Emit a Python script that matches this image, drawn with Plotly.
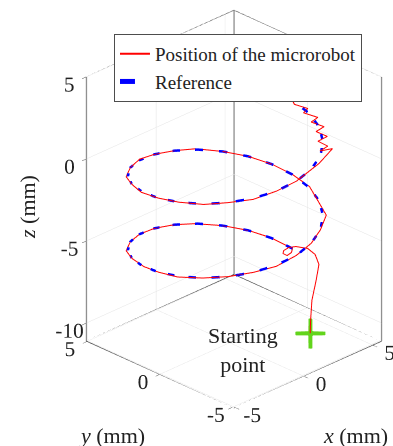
import plotly.graph_objects as go

# ---------------- axes ----------------
x_range = [-5.07, 5.65]
y_range = [-5.1, 5.05]
z_range = [-11.1, 5.0]
x_ticks = [-5, 0, 5]
y_ticks = [-5, 0, 5]
z_ticks = [-10, -5, 0, 5]
x_ticktext = ["-5", "0", "5"]
y_ticktext = ["-5", "0", "5"]
z_ticktext = ["-10", "-5", "0", "5"]

# ---------------- reference helix (mm) ----------------
ref_x = [4.72, 4.55, 4.07, 3.29, 2.29, 1.11, -0.15, -1.41, -2.59, -3.59, -4.37, -4.85,
         -5.02, -4.85, -4.37, -3.59, -2.59, -1.41, -0.15, 1.11, 2.29, 3.29, 4.07, 4.55,
         4.72, 4.55, 4.07, 3.29, 2.29, 1.11, -0.15, -1.41, -2.59, -3.59, -4.37, -4.85,
         -5.02, -4.85, -4.37, -3.59, -2.59, -1.41, -0.15, 1.11, 2.29, 3.29, 4.07, 4.55,
         4.72]
ref_y = [0.15, 1.41, 2.59, 3.59, 4.37, 4.85, 5.02, 4.85, 4.37, 3.59, 2.59, 1.41,
         0.15, -1.11, -2.29, -3.29, -4.07, -4.55, -4.72, -4.55, -4.07, -3.29, -2.29, -1.11,
         0.15, 1.41, 2.59, 3.59, 4.37, 4.85, 5.02, 4.85, 4.37, 3.59, 2.59, 1.41,
         0.15, -1.11, -2.29, -3.29, -4.07, -4.55, -4.72, -4.55, -4.07, -3.29, -2.29, -1.11,
         0.15]
ref_z = [-7.21, -7.02, -6.83, -6.65, -6.46, -6.27, -6.08, -5.89, -5.71, -5.52, -5.33, -5.14,
         -4.95, -4.77, -4.58, -4.39, -4.20, -4.01, -3.83, -3.64, -3.45, -3.26, -3.07, -2.89,
         -2.70, -2.51, -2.32, -2.13, -1.95, -1.76, -1.57, -1.38, -1.19, -1.01, -0.82, -0.63,
         -0.44, -0.25, -0.07, 0.12, 0.31, 0.50, 0.69, 0.87, 1.06, 1.25, 1.44, 1.63,
         1.81]

# ---------------- measured microrobot position (mm) ----------------
rob_x = [3.55, 3.60, 3.75, 3.95, 4.10, 4.30, 4.50, 4.70, 4.60, 4.45, 4.50, 4.70, 4.85,
         4.72, 4.55, 4.07, 3.29, 2.20, 1.11, -0.15, -1.41, -2.59, -3.72, -4.37, -4.85,
         -5.02, -4.95, -4.37, -3.59, -2.59, -1.41, -0.15, 1.11, 2.29, 3.42, 4.00, 4.62,
         4.72, 4.55, 4.07, 3.29, 2.29, 1.11, -0.15, -1.41, -2.59, -3.72, -4.37, -4.92,
         -5.02, -4.85, -4.37, -3.59, -2.59, -1.41, -0.15,
         1.40, 2.73, 2.57, 3.16, 3.11, 3.76, 3.66, 4.25, 4.08, 4.61, 4.37, 4.79, 4.56, 4.72, 4.61]
rob_y = [-2.17, -2.15, -2.10, -2.20, -2.25, -1.80, -1.10, -0.10, 0.30, 0.50, 0.60, 0.50, 0.35,
         0.15, 1.50, 2.59, 3.59, 4.45, 4.85, 5.02, 4.85, 4.37, 3.59, 2.59, 1.30,
         0.15, -1.11, -2.29, -3.29, -4.07, -4.55, -4.72, -4.55, -4.07, -3.40, -2.29, -1.11,
         0.15, 1.41, 2.59, 3.59, 4.50, 4.85, 5.02, 4.85, 4.37, 3.59, 2.59, 1.41,
         0.15, -1.11, -2.36, -3.29, -4.07, -4.55, -4.72,
         -4.82, -4.48, -3.77, -3.75, -3.12, -3.15, -2.47, -2.46, -1.74, -1.69, -0.94, -0.83, -0.13, 0.15, 0.25]
rob_z = [-11.00, -10.23, -9.09, -7.91, -6.98, -6.63, -6.62, -6.98, -7.16, -7.37, -7.61, -7.77, -7.58,
         -7.21, -7.02, -6.83, -6.65, -6.46, -6.27, -6.08, -5.89, -5.71, -5.52, -5.33, -5.14,
         -4.95, -4.77, -4.58, -4.39, -4.20, -4.08, -3.83, -3.64, -3.45, -3.26, -3.07, -2.89,
         -2.70, -2.51, -2.32, -2.13, -1.95, -1.76, -1.57, -1.32, -1.19, -1.01, -0.82, -0.63,
         -0.44, -0.25, -0.07, 0.12, 0.25, 0.50, 0.69,
         1.23, 1.49, 1.12, 1.185, 1.25, 1.31, 1.37, 1.44, 1.50, 1.56, 1.63, 1.69, 1.75, 1.81, 2.05]

start_x = [3.55]
start_y = [-2.17]
start_z = [-11.00]

SERIF = "Liberation Serif, DejaVu Serif, serif"
GREEN = "#62d41c"
INK = "#222222"

fig = go.Figure()
fig.add_trace(go.Scatter3d(
    x=rob_x, y=rob_y, z=rob_z, mode="lines",
    line=dict(color="#ff0000", width=2),
    name="Position of the microrobot"))
fig.add_trace(go.Scatter3d(
    x=ref_x, y=ref_y, z=ref_z, mode="lines",
    line=dict(color="#0000ff", width=5, dash="dash"),
    name="Reference"))
fig.add_trace(go.Scatter3d(
    x=start_x, y=start_y, z=start_z, mode="text",
    text=["+"], textposition="middle center",
    textfont=dict(family="DejaVu Sans", size=48, color=GREEN),
    showlegend=False))

# box outline (back planes + floor), built from the axis ranges
x0, x1 = x_range
y0, y1 = y_range
z0, z1 = z_range
bx, by, bz = [], [], []
edges = [
    [(x1, y1, z0), (x1, y1, z1)],
    [(x0, y1, z0), (x0, y1, z1)],
    [(x1, y0, z0), (x1, y0, z1)],
    [(x0, y1, z1), (x1, y1, z1), (x1, y0, z1)],
    [(x0, y1, z0), (x1, y1, z0), (x1, y0, z0)],
    [(x0, y1, z0), (x0, y0, z0), (x1, y0, z0)],
]
for e in edges:
    for p in e:
        bx.append(p[0]); by.append(p[1]); bz.append(p[2])
    bx.append(None); by.append(None); bz.append(None)
fig.add_trace(go.Scatter3d(x=bx, y=by, z=bz, mode="lines",
                           line=dict(color="#4d4d4d", width=1.5),
                           showlegend=False, hoverinfo="skip"))

axis_common = dict(
    showbackground=False, showgrid=True, gridcolor="#e3e3e3", gridwidth=1,
    zeroline=False, showline=False, showspikes=False,
    ticks="outside", ticklen=6, tickcolor="#4d4d4d", tickangle=0,
    tickfont=dict(family=SERIF, size=16, color=INK),
    title=dict(text=""), autorange=False)

# camera: view direction (az -45 deg, el ~27 deg), shifted so the box sits right/up
eye = dict(x=-1.717, y=-1.479, z=1.074)
center = dict(x=-0.139, y=0.099, z=-0.056)

fig.update_layout(
    width=393, height=446, margin=dict(l=0, r=0, t=0, b=0),
    paper_bgcolor="white",
    scene=dict(
        domain=dict(x=[0.0, 1.0], y=[0.0, 1.0]),
        xaxis=dict(range=x_range, tickvals=x_ticks, ticktext=x_ticktext, **axis_common),
        yaxis=dict(range=y_range, tickvals=y_ticks, ticktext=y_ticktext, **axis_common),
        zaxis=dict(range=z_range, tickvals=z_ticks, ticktext=z_ticktext, **axis_common),
        aspectmode="manual", aspectratio=dict(x=0.937, y=0.937, z=1.328),
        camera=dict(up=dict(x=0, y=0, z=1), center=center, eye=eye,
                    projection=dict(type="orthographic")),
        annotations=[dict(x=start_x[0], y=start_y[0], z=start_z[0],
                          text="Starting<br>point", showarrow=False,
                          xanchor="center", yanchor="middle",
                          xshift=-67, yshift=-17,
                          font=dict(family=SERIF, size=22, color=INK))],
    ),
    legend=dict(x=0.29, y=0.924, xanchor="left", yanchor="top",
                bgcolor="white", bordercolor="#4d4d4d", borderwidth=1,
                font=dict(family=SERIF, size=19, color=INK)),
    annotations=[
        dict(x=27 / 393, y=1 - 207 / 446, xref="paper", yref="paper",
             xanchor="center", yanchor="middle",
             text="<i>z</i> (mm)", textangle=-90, showarrow=False,
             font=dict(family=SERIF, size=22, color=INK)),
        dict(x=112 / 393, y=1 - 435 / 446, xref="paper", yref="paper",
             xanchor="center", yanchor="middle",
             text="<i>y</i> (mm)", showarrow=False,
             font=dict(family=SERIF, size=22, color=INK)),
        dict(x=355 / 393, y=1 - 435 / 446, xref="paper", yref="paper",
             xanchor="center", yanchor="middle",
             text="<i>x</i> (mm)", showarrow=False,
             font=dict(family=SERIF, size=22, color=INK)),
    ],
    hovermode=False,
)

fig.write_html("out.html", config=dict(displayModeBar=False))
